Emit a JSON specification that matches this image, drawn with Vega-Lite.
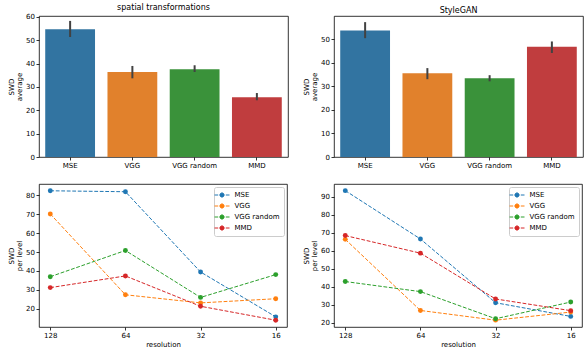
{
  "$schema": "https://vega.github.io/schema/vega-lite/v6.json",
  "padding": {"left": 6, "top": 3, "right": 0, "bottom": 0},
  "datasets": {
    "bars": [
      {"panel": "spatial", "method": "MSE", "swd": 54.7, "lo": 51.4, "hi": 58.3},
      {"panel": "spatial", "method": "VGG", "swd": 36.4, "lo": 33.7, "hi": 39.0},
      {"panel": "spatial", "method": "VGG random", "swd": 37.6, "lo": 36.4, "hi": 39.3},
      {"panel": "spatial", "method": "MMD", "swd": 25.6, "lo": 24.3, "hi": 27.4},
      {"panel": "stylegan", "method": "MSE", "swd": 53.6, "lo": 50.4, "hi": 57.2},
      {"panel": "stylegan", "method": "VGG", "swd": 35.5, "lo": 33.0, "hi": 37.7},
      {"panel": "stylegan", "method": "VGG random", "swd": 33.4, "lo": 32.1, "hi": 34.7},
      {"panel": "stylegan", "method": "MMD", "swd": 46.8, "lo": 44.1, "hi": 49.0}
    ],
    "lines": [
      {"panel": "spatial", "method": "MSE", "res": "128", "swd": 82.5},
      {"panel": "spatial", "method": "MSE", "res": "64", "swd": 82.0},
      {"panel": "spatial", "method": "MSE", "res": "32", "swd": 39.4},
      {"panel": "spatial", "method": "MSE", "res": "16", "swd": 15.6},
      {"panel": "spatial", "method": "VGG", "res": "128", "swd": 70.2},
      {"panel": "spatial", "method": "VGG", "res": "64", "swd": 27.3},
      {"panel": "spatial", "method": "VGG", "res": "32", "swd": 23.0},
      {"panel": "spatial", "method": "VGG", "res": "16", "swd": 25.2},
      {"panel": "spatial", "method": "VGG random", "res": "128", "swd": 36.9},
      {"panel": "spatial", "method": "VGG random", "res": "64", "swd": 50.8},
      {"panel": "spatial", "method": "VGG random", "res": "32", "swd": 25.9},
      {"panel": "spatial", "method": "VGG random", "res": "16", "swd": 38.0},
      {"panel": "spatial", "method": "MMD", "res": "128", "swd": 31.1},
      {"panel": "spatial", "method": "MMD", "res": "64", "swd": 37.3},
      {"panel": "spatial", "method": "MMD", "res": "32", "swd": 21.2},
      {"panel": "spatial", "method": "MMD", "res": "16", "swd": 13.8},
      {"panel": "stylegan", "method": "MSE", "res": "128", "swd": 93.4},
      {"panel": "stylegan", "method": "MSE", "res": "64", "swd": 66.5},
      {"panel": "stylegan", "method": "MSE", "res": "32", "swd": 31.0},
      {"panel": "stylegan", "method": "MSE", "res": "16", "swd": 23.4},
      {"panel": "stylegan", "method": "VGG", "res": "128", "swd": 66.3},
      {"panel": "stylegan", "method": "VGG", "res": "64", "swd": 26.7},
      {"panel": "stylegan", "method": "VGG", "res": "32", "swd": 21.3},
      {"panel": "stylegan", "method": "VGG", "res": "16", "swd": 25.8},
      {"panel": "stylegan", "method": "VGG random", "res": "128", "swd": 42.8},
      {"panel": "stylegan", "method": "VGG random", "res": "64", "swd": 37.2},
      {"panel": "stylegan", "method": "VGG random", "res": "32", "swd": 22.1},
      {"panel": "stylegan", "method": "VGG random", "res": "16", "swd": 31.4},
      {"panel": "stylegan", "method": "MMD", "res": "128", "swd": 68.4},
      {"panel": "stylegan", "method": "MMD", "res": "64", "swd": 58.6},
      {"panel": "stylegan", "method": "MMD", "res": "32", "swd": 33.1},
      {"panel": "stylegan", "method": "MMD", "res": "16", "swd": 26.6}
    ]
  },
  "columns": 2,
  "spacing": {"row": 14, "column": 12},
  "resolve": {
    "scale": {"color": "independent", "x": "independent", "y": "independent"},
    "legend": {"color": "independent"}
  },
  "concat": [
    {
      "width": 249, "height": 141,
      "title": "spatial transformations",
      "data": {"name": "bars"},
      "transform": [{"filter": "datum.panel === 'spatial'"}],
      "encoding": {
        "x": {"field": "method", "type": "nominal", "sort": ["MSE", "VGG", "VGG random", "MMD"],
              "scale": {"paddingInner": 0.2, "paddingOuter": 0.1},
              "axis": {"title": null, "labelAngle": 0}}
      },
      "layer": [
        {"mark": {"type": "bar"},
         "encoding": {
           "y": {"field": "swd", "type": "quantitative", "scale": {"domain": [0, 60.4], "nice": false},
                 "axis": {"title": ["SWD", "average"], "values": [0, 10, 20, 30, 40, 50, 60]}},
           "color": {"field": "method", "type": "nominal",
                     "scale": {"domain": ["MSE", "VGG", "VGG random", "MMD"], "range": ["#3274a1", "#e1812c", "#3a923a", "#c03d3e"]},
                     "legend": null}
         }},
        {"mark": {"type": "rule", "color": "#424242", "strokeWidth": 2},
         "encoding": {"y": {"field": "lo", "type": "quantitative",
                            "axis": {"title": ["SWD", "average"], "values": [0, 10, 20, 30, 40, 50, 60]}},
                      "y2": {"field": "hi"}}}
      ]
    },
    {
      "width": 249, "height": 141,
      "title": "StyleGAN",
      "data": {"name": "bars"},
      "transform": [{"filter": "datum.panel === 'stylegan'"}],
      "encoding": {
        "x": {"field": "method", "type": "nominal", "sort": ["MSE", "VGG", "VGG random", "MMD"],
              "scale": {"paddingInner": 0.2, "paddingOuter": 0.1},
              "axis": {"title": null, "labelAngle": 0}}
      },
      "layer": [
        {"mark": {"type": "bar"},
         "encoding": {
           "y": {"field": "swd", "type": "quantitative", "scale": {"domain": [0, 59.8], "nice": false},
                 "axis": {"title": ["SWD", "average"], "values": [0, 10, 20, 30, 40, 50]}},
           "color": {"field": "method", "type": "nominal",
                     "scale": {"domain": ["MSE", "VGG", "VGG random", "MMD"], "range": ["#3274a1", "#e1812c", "#3a923a", "#c03d3e"]},
                     "legend": null}
         }},
        {"mark": {"type": "rule", "color": "#424242", "strokeWidth": 2},
         "encoding": {"y": {"field": "lo", "type": "quantitative",
                            "axis": {"title": ["SWD", "average"], "values": [0, 10, 20, 30, 40, 50]}},
                      "y2": {"field": "hi"}}}
      ]
    },
    {
      "width": 248, "height": 143,
      "data": {"name": "lines"},
      "transform": [{"filter": "datum.panel === 'spatial'"}],
      "encoding": {
        "x": {"field": "res", "type": "ordinal", "sort": ["128", "64", "32", "16"],
              "scale": {"type": "point", "padding": 0.15},
              "axis": {"title": "resolution", "labelAngle": 0, "titlePadding": 1.5}},
        "y": {"field": "swd", "type": "quantitative", "scale": {"domain": [10.2, 86.1], "nice": false, "zero": false},
              "axis": {"title": ["SWD", "per level"], "values": [20, 30, 40, 50, 60, 70, 80]}},
        "color": {"field": "method", "type": "nominal",
                  "scale": {"domain": ["MSE", "VGG", "VGG random", "MMD"], "range": ["#1f77b4", "#ff7f0e", "#2ca02c", "#d62728"]}}
      },
      "layer": [
        {"mark": {"type": "line", "strokeDash": [3.8, 1.7], "strokeWidth": 1}},
        {"mark": {"type": "point", "filled": true, "size": 24, "opacity": 1}}
      ]
    },
    {
      "width": 248, "height": 143,
      "data": {"name": "lines"},
      "transform": [{"filter": "datum.panel === 'stylegan'"}],
      "encoding": {
        "x": {"field": "res", "type": "ordinal", "sort": ["128", "64", "32", "16"],
              "scale": {"type": "point", "padding": 0.15},
              "axis": {"title": "resolution", "labelAngle": 0, "titlePadding": 1.5}},
        "y": {"field": "swd", "type": "quantitative", "scale": {"domain": [17.5, 97.1], "nice": false, "zero": false},
              "axis": {"title": ["SWD", "per level"], "values": [20, 30, 40, 50, 60, 70, 80, 90]}},
        "color": {"field": "method", "type": "nominal",
                  "scale": {"domain": ["MSE", "VGG", "VGG random", "MMD"], "range": ["#1f77b4", "#ff7f0e", "#2ca02c", "#d62728"]}}
      },
      "layer": [
        {"mark": {"type": "line", "strokeDash": [3.8, 1.7], "strokeWidth": 1}},
        {"mark": {"type": "point", "filled": true, "size": 24, "opacity": 1}}
      ]
    }
  ],
  "config": {
    "font": "DejaVu Sans",
    "view": {"stroke": "#000000", "strokeWidth": 0.8},
    "axis": {
      "domain": false, "grid": false, "labelOverlap": false,
      "tickColor": "#000000", "tickWidth": 0.8, "tickSize": 3,
      "labelFont": "DejaVu Sans", "labelFontSize": 7, "labelColor": "#000000", "labelPadding": 1.5,
      "titleFont": "DejaVu Sans", "titleFontSize": 7, "titleFontWeight": "normal", "titleColor": "#000000",
      "titlePadding": 3, "titleLineHeight": 8.5
    },
    "title": {"font": "DejaVu Sans", "fontSize": 8, "fontWeight": "normal", "color": "#000000", "offset": 1},
    "legend": {
      "orient": "top-right", "offset": 3, "padding": 3.5, "title": null,
      "fillColor": "rgba(255,255,255,0.8)", "strokeColor": "#cccccc", "cornerRadius": 2,
      "labelFont": "DejaVu Sans", "labelFontSize": 7, "labelColor": "#000000", "labelOffset": 8,
      "symbolType": "M-1.875,0H-0.95M-0.5,0H0.5M0.95,0H1.875M0.525,0A0.525,0.525 0 1,1 -0.525,0A0.525,0.525 0 1,1 0.525,0M0.275,0A0.275,0.275 0 1,1 -0.275,0A0.275,0.275 0 1,1 0.275,0M0.075,0A0.075,0.075 0 1,1 -0.075,0A0.075,0.075 0 1,1 0.075,0",
      "symbolSize": 64, "symbolStrokeWidth": 1, "symbolDash": [], "rowPadding": 2
    }
  }
}
